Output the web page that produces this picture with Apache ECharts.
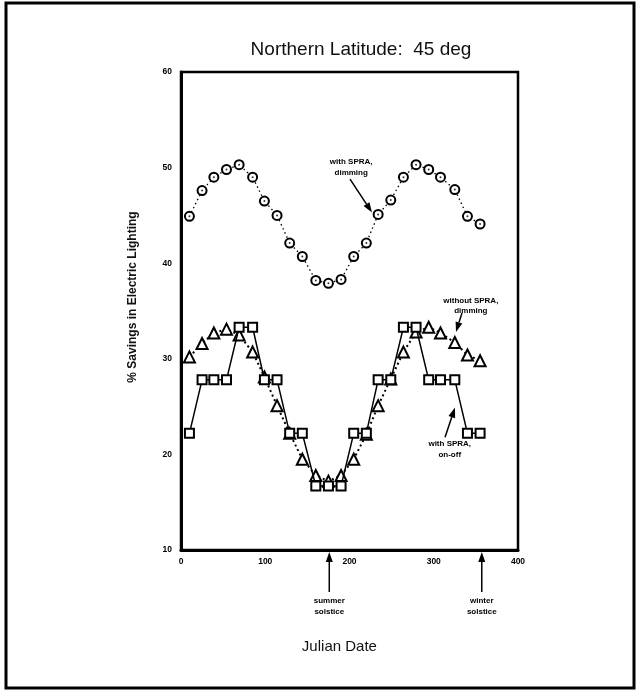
<!DOCTYPE html>
<html><head><meta charset="utf-8">
<script src="https://cdn.jsdelivr.net/npm/echarts@6/dist/echarts.min.js"></script>
<style>html,body{margin:0;padding:0;background:#fff}#c{width:639px;height:690px}</style>
</head><body><div id="c"></div>
<script>
const days = [10, 25, 39, 54, 69, 85, 99, 114, 129, 144, 160, 175, 190, 205, 220, 234, 249, 264, 279, 294, 308, 325, 340, 355];
const dimmingSPRA = [44.9, 47.6, 49.0, 49.8, 50.3, 49.0, 46.5, 45.0, 42.1, 40.7, 38.2, 37.9, 38.3, 40.7, 42.1, 45.1, 46.6, 49.0, 50.3, 49.8, 49.0, 47.7, 44.9, 44.1];
const dimmingNoSPRA = [30.2, 31.6, 32.7, 33.1, 32.5, 30.7, 28.1, 25.1, 22.2, 19.5, 17.8, 17.2, 17.8, 19.5, 22.1, 25.1, 27.9, 30.7, 32.8, 33.3, 32.7, 31.7, 30.4, 29.8];
const onOffSPRA = [22.2, 27.8, 27.8, 27.8, 33.3, 33.3, 27.8, 27.8, 22.2, 22.2, 16.7, 16.7, 16.7, 22.2, 22.2, 27.8, 27.8, 33.3, 33.3, 27.8, 27.8, 27.8, 22.2, 22.2];
const xTicks = [0, 100, 200, 300, 400];
const yTicks = [10, 20, 30, 40, 50, 60];
const titleText = 'Northern Latitude:  45 deg';
const xName = 'Julian Date';
const yName = '% Savings in Electric Lighting';
const solstices = [{day: 176, lines: ['summer', 'solstice']}, {day: 357, lines: ['winter', 'solstice']}];

const F = '"Liberation Sans", Arial, sans-serif';
const chart = echarts.init(document.getElementById('c'), null, {renderer: 'canvas'});
const pair = (xs, ys) => xs.map((x, i) => [x, ys[i]]);

chart.setOption({
  animation: false,
  backgroundColor: '#fff',
  title: {text: titleText, left: 356, top: 35, textAlign: 'center',
    textStyle: {fontFamily: F, fontSize: 19, fontWeight: 'normal', color: '#111'}},
  grid: {left: 181, right: 121, top: 72, bottom: 140, show: true, borderColor: '#000', borderWidth: 2.5, backgroundColor: 'transparent'},
  xAxis: {type: 'value', min: xTicks[0], max: xTicks[xTicks.length - 1], interval: 100,
    axisLine: {show: true, onZero: false, lineStyle: {color: '#000', width: 3}},
    axisTick: {show: false}, splitLine: {show: false},
    axisLabel: {margin: 7, fontFamily: F, fontSize: 8.5, fontWeight: 'bold', color: '#000'}},
  yAxis: {type: 'value', min: yTicks[0], max: yTicks[yTicks.length - 1], interval: 10,
    axisLine: {show: true, onZero: false, lineStyle: {color: '#000', width: 3}},
    axisTick: {show: false}, splitLine: {show: false},
    axisLabel: {margin: 9, fontFamily: F, fontSize: 8.5, fontWeight: 'bold', color: '#000'}},
  series: [
    {type: 'line', data: pair(days, dimmingSPRA), symbol: 'emptyCircle', symbolSize: 9,
     lineStyle: {color: '#000', width: 1.3, type: [1.5, 3]}, itemStyle: {color: '#000', borderColor: '#000', borderWidth: 1.6}, z: 3},
    {type: 'line', data: pair(days, dimmingNoSPRA), symbol: 'emptyTriangle', symbolSize: 11,
     lineStyle: {color: '#000', width: 2, type: [2, 3]}, itemStyle: {color: '#000', borderColor: '#000', borderWidth: 1.4}, z: 3},
    {type: 'line', data: pair(days, onOffSPRA), symbol: 'emptyRect', symbolSize: 9,
     lineStyle: {color: '#000', width: 1.5}, itemStyle: {color: '#000', borderColor: '#000', borderWidth: 1.4}, z: 4},
    {type: 'scatter', data: pair(days, dimmingSPRA), symbol: 'circle', symbolSize: 2, itemStyle: {color: '#000'}, z: 5, silent: true}
  ]
});

function P(x, y) { return chart.convertToPixel({gridIndex: 0}, [x, y]); }
function arrow(a, b, w) {
  const dx = b[0] - a[0], dy = b[1] - a[1], L = Math.hypot(dx, dy);
  const ux = dx / L, uy = dy / L, h = 10, hw = 3.5;
  const base = [b[0] - ux * h, b[1] - uy * h];
  return [
    {type: 'line', shape: {x1: a[0], y1: a[1], x2: base[0], y2: base[1]}, style: {stroke: '#000', lineWidth: w || 1.5}},
    {type: 'polygon', shape: {points: [[b[0], b[1]], [base[0] - uy * hw, base[1] + ux * hw], [base[0] + uy * hw, base[1] - ux * hw]]}, style: {fill: '#000'}}
  ];
}
function label(lines, c, y0) {
  return lines.map((t, i) => ({type: 'text', x: c, y: y0 + i * 10.5,
    style: {text: t, fill: '#000', font: 'bold 8px ' + F, textAlign: 'center', textVerticalAlign: 'middle'}}));
}
const g = [];
g.push({type: 'rect', shape: {x: 6, y: 3, width: 628, height: 685}, style: {fill: 'none', stroke: '#000', lineWidth: 3}});
let a = P(200.6, 48.8), b = P(226.7, 45.3);
g.push(...arrow(a, b)); g.push(...label(['with SPRA,', 'dimming'], P(202, 0)[0], P(0, 50.6)[1]));
a = P(333.5, 34.8); b = P(326.4, 32.8);
g.push(...arrow(a, b)); g.push(...label(['without SPRA,', 'dimming'], P(344, 0)[0], P(0, 36.1)[1]));
a = P(313.4, 21.8); b = P(325.2, 24.9);
g.push(...arrow(a, b)); g.push(...label(['with SPRA,', 'on-off'], P(319, 0)[0], P(0, 21.1)[1]));
const yb = P(0, 10)[1];
solstices.forEach(s => {
  const x = P(s.day, 10)[0];
  g.push(...arrow([x, yb + 42], [x, yb + 2], 1.5));
  g.push(...label(s.lines, x, yb + 51));
});
g.push({type: 'text', x: P(188, 0)[0], y: 647, style: {text: xName, fill: '#111', font: '15px ' + F, textAlign: 'center', textVerticalAlign: 'middle'}});
g.push({type: 'text', x: 133, y: 297, rotation: Math.PI / 2, style: {text: yName, fill: '#111', font: 'bold 12px ' + F, textAlign: 'center', textVerticalAlign: 'middle'}});
chart.setOption({graphic: g});
</script></body></html>
